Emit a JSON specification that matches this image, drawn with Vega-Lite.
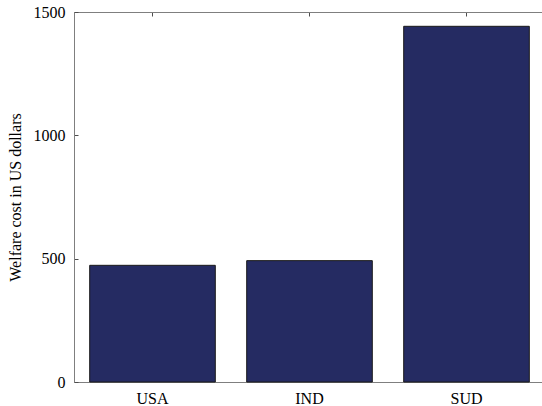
{
  "$schema": "https://vega.github.io/schema/vega-lite/v6.json",
  "width": 471,
  "height": 370,
  "autosize": {"type": "none"},
  "padding": {"left": 74, "top": 12, "right": 0, "bottom": 24},
  "background": "white",
  "config": {
    "font": "Times New Roman",
    "view": {"stroke": "#7f7f7f", "strokeWidth": 1},
    "axis": {
      "domainColor": "#7f7f7f",
      "tickColor": "#4d4d4d",
      "labelColor": "#000000",
      "titleColor": "#000000",
      "labelFont": "Times New Roman",
      "titleFont": "Times New Roman",
      "labelFontSize": 16,
      "titleFontSize": 16,
      "titleFontWeight": "normal",
      "grid": false
    }
  },
  "data": {
    "values": [
      {"country": "USA", "cost": 473},
      {"country": "IND", "cost": 492},
      {"country": "SUD", "cost": 1442}
    ]
  },
  "layer": [
    {
      "mark": {"type": "bar", "fill": "#252b62", "stroke": "#1a1a1a", "strokeWidth": 1},
      "encoding": {
        "x": {
          "field": "country",
          "type": "nominal",
          "sort": null,
          "scale": {"paddingInner": 0.2, "paddingOuter": 0.1},
          "axis": {"title": null, "labelAngle": 0, "tickSize": -4, "labelPadding": 12, "domain": true}
        },
        "y": {
          "field": "cost",
          "type": "quantitative",
          "scale": {"domain": [0, 1500], "nice": false},
          "axis": {"title": "Welfare cost in US dollars", "values": [0, 500, 1000, 1500], "format": "d", "tickSize": -4, "labelPadding": 13, "titlePadding": 10}
        }
      }
    },
    {
      "mark": {"type": "tick", "opacity": 0},
      "encoding": {
        "x": {
          "field": "country",
          "type": "nominal",
          "sort": null,
          "axis": {"orient": "top", "title": null, "labels": false, "tickSize": -4, "domain": true}
        }
      }
    }
  ],
  "resolve": {"axis": {"x": "independent"}}
}
